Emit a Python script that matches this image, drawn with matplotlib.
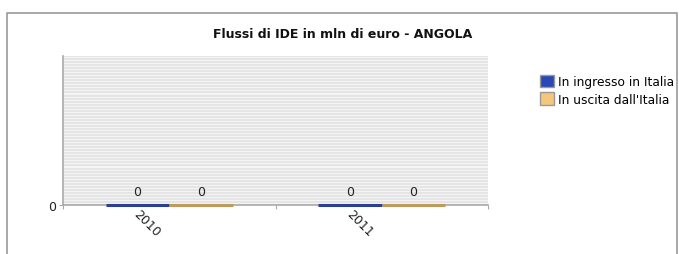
import matplotlib
matplotlib.use('Agg')
import matplotlib.pyplot as plt
import matplotlib.transforms as mtransforms
import numpy as np
from matplotlib.lines import Line2D

years = ['2010', '2011']
ingresso = [0, 0]
uscita = [0, 0]
series_names = ['In ingresso in Italia', "In uscita dall'Italia"]

fig = plt.figure(figsize=(6.79, 2.55), dpi=100)
# outer panel border (top, left, right)
bx0, bx1, by = 7 / 679, 676.5 / 679, 1 - 14 / 255
fig.lines.append(Line2D([bx0, bx0, bx1, bx1], [0, by, by, 0],
                        transform=fig.transFigure, color='#999999', lw=1.2))

ax = fig.add_axes([63 / 679, 49 / 255, 425 / 679, 149 / 255])
ax.set_facecolor('#f4f4f4')
for yy in np.linspace(0, 1, 50):
    ax.axhline(yy, color='#e2e2e2', lw=1.2, zorder=0)

x = np.arange(len(years))
w = 0.3
b1 = ax.bar(x - w / 2, ingresso, w, color='#2a47b8', edgecolor='#2b3f95', lw=2.2,
            zorder=3, clip_on=False)
b2 = ax.bar(x + w / 2, uscita, w, color='#f5c77a', edgecolor='#bf9a5c', lw=2.2,
            zorder=3, clip_on=False)
for bars, vals in ((b1, ingresso), (b2, uscita)):
    for r, v in zip(bars, vals):
        ax.annotate(str(v), (r.get_x() + r.get_width() / 2, v), xytext=(0, 5),
                    textcoords='offset points', ha='center', va='bottom',
                    fontsize=9, color='#222222')

ax.set_xlim(-0.5, 1.5)
ax.set_ylim(0, 1)
ax.set_yticks([0])
ax.set_xticks([-0.5, 0.5, 1.5])
ax.set_xticklabels([])
ax.tick_params(axis='x', length=3, color='#aaaaaa')
# rotated category labels
lab_tr = ax.get_xaxis_transform() + mtransforms.ScaledTranslation(-0.22, -0.175, fig.dpi_scale_trans)
for xi, yr in zip(x, years):
    ax.text(xi, 0, yr, transform=lab_tr, rotation=-45, rotation_mode='anchor',
            ha='center', va='center', fontsize=9, color='#222222')
ax.tick_params(axis='y', length=3, color='#aaaaaa', labelsize=9, labelcolor='#222222', pad=2)
for s in ('top', 'right'):
    ax.spines[s].set_visible(False)
for s in ('left', 'bottom'):
    ax.spines[s].set_color('#aaaaaa')
    ax.spines[s].set_linewidth(1.2)

fig.text(343 / 679, 1 - 35 / 255, 'Flussi di IDE in mln di euro - ANGOLA',
         ha='center', va='center', fontsize=9, fontweight='bold', color='#111111')

leg = fig.legend([b1, b2], series_names, loc='upper left',
                 bbox_to_anchor=(535 / 679, 1 - 71 / 255), frameon=False,
                 fontsize=8.8, handlelength=1.15, handleheight=1.15,
                 handletextpad=0.3, labelspacing=0.35, borderaxespad=0)
for h in leg.legend_handles:
    h.set_edgecolor('#999999')
    h.set_linewidth(1)

fig.savefig('out.png', dpi=100)
